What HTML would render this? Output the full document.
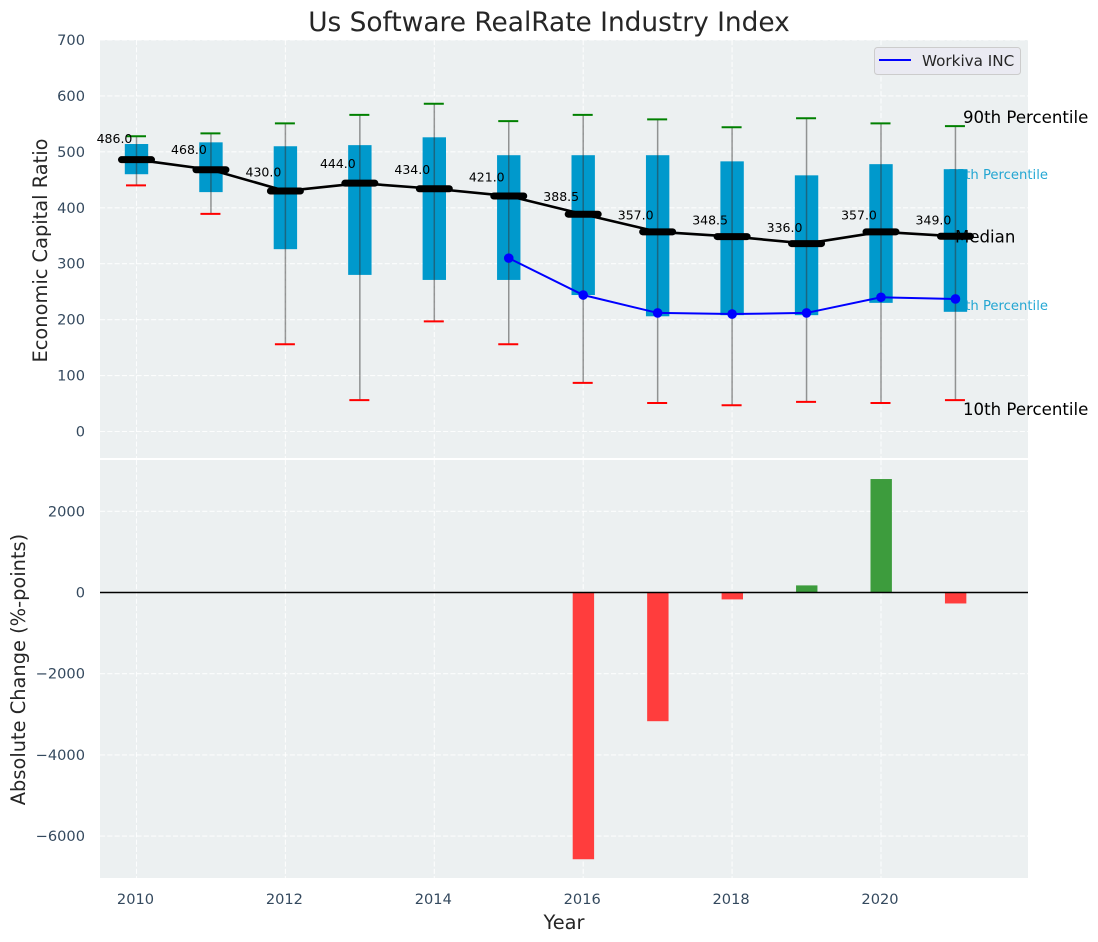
<!DOCTYPE html>
<html lang="en">
<head>
<meta charset="utf-8">
<title>Us Software RealRate Industry Index</title>
<style>
html,body{margin:0;padding:0;background:#fff;width:1098px;height:942px;overflow:hidden}
svg{display:block}
text{font-family:"DejaVu Sans","Liberation Sans",sans-serif}
</style>
</head>
<body>
<svg id="chart" xmlns="http://www.w3.org/2000/svg" width="1098" height="942" viewBox="0 0 1098 942"></svg>
<script>
const years = [2010,2011,2012,2013,2014,2015,2016,2017,2018,2019,2020,2021];
const p90 = [528,533,551,566,586,555,566,558,544,560,551,546];
const p75 = [514,517,510,512,526,494,494,494,483,458,478,469];
const medians = [486,468,430,444,434,421,388.5,357,348.5,336,357,349];
const p25 = [460,428,326,280,271,271,244,206,208,208,230,214];
const p10 = [440,389,156,56,197,156,87,51,47,53,51,56];
const companyYears = [2015,2016,2017,2018,2019,2020,2021];
const companyValues = [310,244,212,210,212,240,237];
const changeYears = [2016,2017,2018,2019,2020,2021];
const changeValues = [-6570,-3170,-170,175,2795,-270];
const topTicks = [0,100,200,300,400,500,600,700];
const bottomTicks = [2000,0,-2000,-4000,-6000];
const xTicks = [2010,2012,2014,2016,2018,2020];

const NS = 'http://www.w3.org/2000/svg';
const svg = document.getElementById('chart');
const left = 100, right = 1028, topA = 40, topB = 458, botA = 460, botB = 878;
const x = v => 136.5 + (v - 2010) * 74.45;
const yTop = v => 431.5 - v * 0.5593;
const yBot = v => 592.5 - v * 0.0406;
const GRID = '#ffffff';

function el(tag, attrs, parent, txt) {
  const e = document.createElementNS(NS, tag);
  for (const k in attrs) e.setAttribute(k, attrs[k]);
  if (txt !== undefined) e.textContent = txt;
  (parent || svg).appendChild(e);
  return e;
}
function grid(parent, x1, y1, x2, y2) {
  const g = el('line', {x1, y1, x2, y2, stroke: GRID, 'stroke-width': 1.1, 'stroke-dasharray': '5.1 2.2', 'stroke-opacity': 0.85}, parent);
  
  
}

// panels
const topBg = el('rect', {x: left, y: topA, width: right - left, height: topB - topA, fill: '#ecf0f1'});


const botBg = el('rect', {x: left, y: botA, width: right - left, height: botB - botA, fill: '#ecf0f1'});



// grids and ticks
xTicks.forEach(t => {
  grid(svg, x(t), topA, x(t), topB);
  grid(svg, x(t), botA, x(t), botB);
  const l = el('text', {x: x(t) - 1, y: 904, 'text-anchor': 'middle', 'font-size': 14.6, fill: '#34495e'}, svg, String(t));
  
  
});
topTicks.forEach(t => {
  grid(svg, left, yTop(t), right, yTop(t));
  const l = el('text', {x: 85, y: yTop(t) + 5, 'text-anchor': 'end', 'font-size': 14.6, fill: '#34495e'}, svg, String(t));
  
  
});
bottomTicks.forEach(t => {
  grid(svg, left, yBot(t), right, yBot(t));
  const l = el('text', {x: 85, y: yBot(t) + 5, 'text-anchor': 'end', 'font-size': 14.6, fill: '#34495e'}, svg, String(t).replace('-', '\u2212'));
  
  
});

// side labels that sit behind the boxes
const last = years.length - 1;
const lab75 = el('text', {x: 1048, y: yTop(p75[last]) + 10, 'text-anchor': 'end', 'font-size': 13.2, fill: '#0099cc', 'fill-opacity': 0.85}, svg, '75th Percentile');


const lab25 = el('text', {x: 1048, y: yTop(p25[last]) - 2, 'text-anchor': 'end', 'font-size': 13.2, fill: '#0099cc', 'fill-opacity': 0.85}, svg, '25th Percentile');



// boxes, whiskers, caps
years.forEach((yr, i) => {
  const c = x(yr);
  const box = el('rect', {x: c - 11.7, y: yTop(p75[i]), width: 23.4, height: yTop(p25[i]) - yTop(p75[i]), fill: '#0099cc'});
  
  
  const wh = el('line', {x1: c, x2: c, y1: yTop(p90[i]), y2: yTop(p10[i]), stroke: '#333333', 'stroke-opacity': 0.5, 'stroke-width': 1.5});
  
  
  const capHi = el('line', {x1: c - 10.5, x2: c + 9.5, y1: yTop(p90[i]), y2: yTop(p90[i]), stroke: '#008000', 'stroke-width': 2});
  
  
  const capLo = el('line', {x1: c - 10.5, x2: c + 9.5, y1: yTop(p10[i]), y2: yTop(p10[i]), stroke: '#ff0000', 'stroke-width': 2});
  
  
});

// side labels above the boxes
const lab90 = el('text', {x: 963, y: yTop(p90[last]) - 3, 'font-size': 16.6, fill: '#000'}, svg, '90th Percentile');


const labMed = el('text', {x: 955, y: yTop(medians[last]) + 6, 'font-size': 16.6, fill: '#000'}, svg, 'Median');


const lab10 = el('text', {x: 963, y: yTop(p10[last]) + 15, 'font-size': 16.6, fill: '#000'}, svg, '10th Percentile');



// median line and caps
const medLine = el('polyline', {points: years.map((yr, i) => x(yr) + ',' + yTop(medians[i])).join(' '), fill: 'none', stroke: '#000', 'stroke-width': 2.6});


years.forEach((yr, i) => {
  const c = x(yr), yy = yTop(medians[i]);
  const m = el('line', {x1: c - 15, x2: c + 15, y1: yy, y2: yy, stroke: '#000', 'stroke-width': 7, 'stroke-linecap': 'round'});
  
  
  const a = el('text', {x: c - 22, y: yy - 0.034 * medians[i], 'text-anchor': 'middle', 'font-size': 12.5, fill: '#000'}, svg, medians[i].toFixed(1));
  
  
});

// company series
const coLine = el('polyline', {points: companyYears.map((yr, i) => x(yr) + ',' + yTop(companyValues[i])).join(' '), fill: 'none', stroke: '#0000ff', 'stroke-width': 2});


companyYears.forEach((yr, i) => {
  const d = el('circle', {cx: x(yr), cy: yTop(companyValues[i]), r: 4.8, fill: '#0000ff'});
  
  
});

// change bars
changeYears.forEach((yr, i) => {
  const v = changeValues[i];
  const y0 = yBot(Math.max(v, 0)), y1 = yBot(Math.min(v, 0));
  const b = el('rect', {x: x(yr) - 10.5, y: y0, width: 21.4, height: y1 - y0, fill: v < 0 ? '#ff3d3d' : '#3d9c3d'});
  
  
});
const zero = el('line', {x1: left, x2: right, y1: yBot(0), y2: yBot(0), stroke: '#000', 'stroke-width': 1.4});



// legend
const legend = el('g', {});


el('rect', {x: 874.5, y: 47.5, width: 146, height: 27, rx: 3, fill: '#eaeaf2', stroke: '#cccccc', 'stroke-width': 1}, legend);
const legLine = el('line', {x1: 879, x2: 911, y1: 60, y2: 60, stroke: '#0000ff', 'stroke-width': 2}, legend);


const legText = el('text', {x: 922, y: 66, 'font-size': 15.2, fill: '#262626'}, legend, 'Workiva INC');



// titles
const title = el('text', {x: 549, y: 31, 'text-anchor': 'middle', 'font-size': 26.4, fill: '#262626'}, svg, 'Us Software RealRate Industry Index');


const xTitle = el('text', {x: 564, y: 929, 'text-anchor': 'middle', 'font-size': 19.4, fill: '#262626'}, svg, 'Year');


const yTitleTop = el('text', {transform: 'translate(47,250.5) rotate(-90)', 'text-anchor': 'middle', 'font-size': 19.4, fill: '#262626'}, svg, 'Economic Capital Ratio');


const yTitleBot = el('text', {transform: 'translate(25,669.5) rotate(-90)', 'text-anchor': 'middle', 'font-size': 19.4, fill: '#262626'}, svg, 'Absolute Change (%-points)');


</script>
</body>
</html>
